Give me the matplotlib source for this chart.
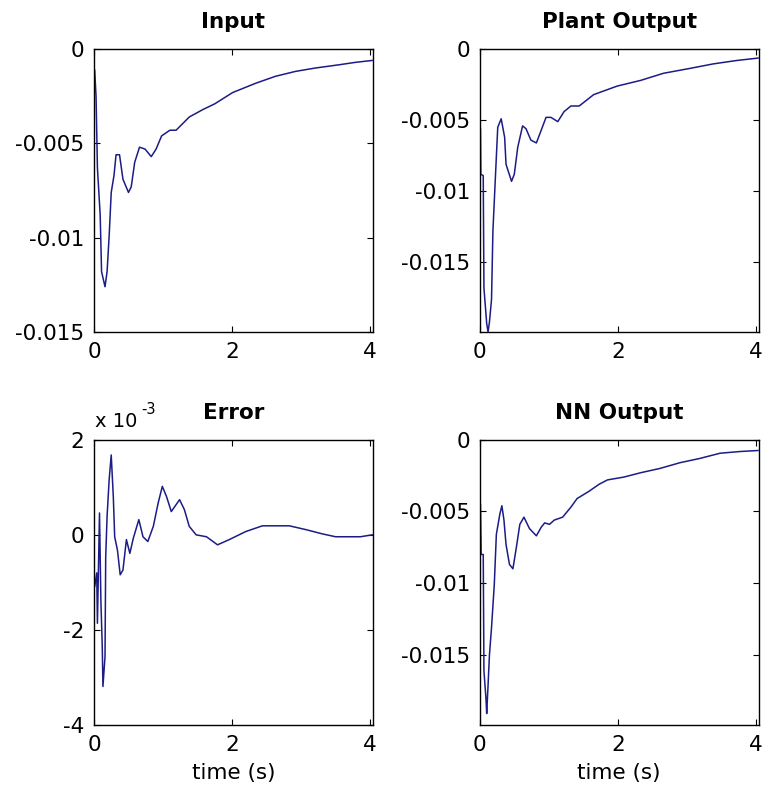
import matplotlib.pyplot as plt

# values (time in s)
t_input = [0.0, 0.01, 0.03, 0.05, 0.09, 0.11, 0.16, 0.19, 0.22, 0.25, 0.29, 0.32, 0.37,
           0.42, 0.5, 0.54, 0.59, 0.66, 0.74, 0.83, 0.9, 0.98, 1.1, 1.19, 1.38, 1.58,
           1.75, 2.01, 2.35, 2.63, 2.92, 3.21, 3.55, 3.79, 4.03]
y_input = [-0.0011, -0.0011, -0.0025, -0.0063, -0.0088, -0.0118, -0.0126, -0.0118,
           -0.0099, -0.0076, -0.0067, -0.0056, -0.0056, -0.0069, -0.0076, -0.0073,
           -0.0060, -0.0052, -0.0053, -0.0057, -0.0053, -0.0046, -0.0043, -0.0043,
           -0.0036, -0.0032, -0.0029, -0.0023, -0.0018, -0.00144, -0.00118, -0.0010,
           -0.00083, -0.0007, -0.0006]

t_plant = [0.0, 0.01, 0.015, 0.05, 0.06, 0.1, 0.12, 0.14, 0.17, 0.19, 0.23, 0.26, 0.31,
           0.36, 0.38, 0.46, 0.5, 0.55, 0.62, 0.67, 0.74, 0.82, 0.89, 0.96, 1.03, 1.13,
           1.22, 1.32, 1.44, 1.65, 1.99, 2.33, 2.66, 3.05, 3.38, 3.72, 4.03]
y_plant = [-0.0056, -0.0056, -0.0088, -0.0089, -0.0168, -0.0193, -0.0199, -0.0192,
           -0.0176, -0.0128, -0.0086, -0.0055, -0.0049, -0.0062, -0.0081, -0.0093,
           -0.0088, -0.0069, -0.0054, -0.0056, -0.0064, -0.0066, -0.0057, -0.0048,
           -0.0048, -0.0051, -0.0044, -0.0040, -0.0040, -0.0032, -0.0026, -0.0022,
           -0.0017, -0.00135, -0.00104, -0.0008, -0.00063]

# error shown in units of 1e-3
t_err = [0.0, 0.01, 0.04, 0.05, 0.08, 0.1, 0.12, 0.13, 0.16, 0.17, 0.19, 0.22, 0.25,
         0.28, 0.3, 0.34, 0.38, 0.42, 0.47, 0.52, 0.57, 0.65, 0.71, 0.78, 0.86, 0.93,
         0.99, 1.05, 1.12, 1.24, 1.31, 1.38, 1.48, 1.63, 1.79, 1.96, 2.2, 2.44, 2.83,
         3.07, 3.31, 3.5, 3.86, 4.03]
y_err = [-1.09, -1.09, -0.8, -1.86, 0.46, -1.37, -2.35, -3.19, -2.56, -0.46, 0.39,
         1.16, 1.68, 0.81, -0.04, -0.32, -0.84, -0.74, -0.1, -0.39, -0.07, 0.32,
         -0.04, -0.14, 0.18, 0.67, 1.02, 0.81, 0.49, 0.74, 0.53, 0.18, 0.0, -0.04,
         -0.21, -0.1, 0.07, 0.19, 0.19, 0.11, 0.02, -0.04, -0.04, 0.0]

t_nn = [0.0, 0.01, 0.02, 0.05, 0.06, 0.09, 0.1, 0.12, 0.14, 0.17, 0.21, 0.24, 0.29,
        0.32, 0.35, 0.38, 0.43, 0.48, 0.53, 0.58, 0.64, 0.72, 0.82, 0.89, 0.94, 1.01,
        1.08, 1.2, 1.32, 1.41, 1.58, 1.73, 1.85, 2.09, 2.33, 2.61, 2.9, 3.19, 3.48,
        3.77, 4.03]
y_nn = [-0.0045, -0.0045, -0.008, -0.008, -0.0161, -0.0181, -0.0191, -0.0171, -0.015,
        -0.0131, -0.0101, -0.0066, -0.0052, -0.0046, -0.0056, -0.0073, -0.0087, -0.009,
        -0.0075, -0.0059, -0.0054, -0.0062, -0.0067, -0.0061, -0.0058, -0.0059, -0.0056,
        -0.0054, -0.0047, -0.0041, -0.0036, -0.0031, -0.0028, -0.0026, -0.0023, -0.002,
        -0.0016, -0.0013, -0.00094, -0.00082, -0.00075]

plt.rcParams['font.family'] = ['DejaVu Sans']
LINE = '#1c1c86'
FS = 15.5

fig = plt.figure(figsize=(7.64, 7.99), dpi=100)
ax1 = fig.add_axes([0.123, 0.5845, 0.365, 0.354])
ax2 = fig.add_axes([0.628, 0.5845, 0.365, 0.354])
ax3 = fig.add_axes([0.123, 0.0926, 0.365, 0.357])
ax4 = fig.add_axes([0.628, 0.0926, 0.365, 0.357])

ax1.plot(t_input, y_input, color=LINE, lw=1.1)
ax1.set_ylim(-0.015, 0)
ax1.set_yticks([0, -0.005, -0.01, -0.015])
ax1.set_yticklabels(['0', '-0.005', '-0.01', '-0.015'])
ax1.set_title('Input', fontsize=FS, fontweight='bold', pad=15)

ax2.plot(t_plant, y_plant, color=LINE, lw=1.1)
ax2.set_ylim(-0.0199, 0)
ax2.set_yticks([0, -0.005, -0.01, -0.015])
ax2.set_yticklabels(['0', '-0.005', '-0.01', '-0.015'])
ax2.set_title('Plant Output', fontsize=FS, fontweight='bold', pad=15)

ax3.plot(t_err, y_err, color=LINE, lw=1.1)
ax3.set_ylim(-4, 2)
ax3.set_yticks([2, 0, -2, -4])
ax3.set_yticklabels(['2', '0', '-2', '-4'])
ax3.set_title('Error', fontsize=FS, fontweight='bold', pad=15)
ax3.text(0.004, 1.046, 'x 10', transform=ax3.transAxes, fontsize=14,
         ha='left', va='baseline')
ax3.text(0.168, 1.09, '-3', transform=ax3.transAxes, fontsize=10.5,
         ha='left', va='baseline')
ax3.set_xlabel('time (s)', fontsize=FS, labelpad=6)

ax4.plot(t_nn, y_nn, color=LINE, lw=1.1)
ax4.set_ylim(-0.0199, 0)
ax4.set_yticks([0, -0.005, -0.01, -0.015])
ax4.set_yticklabels(['0', '-0.005', '-0.01', '-0.015'])
ax4.set_title('NN Output', fontsize=FS, fontweight='bold', pad=15)
ax4.set_xlabel('time (s)', fontsize=FS, labelpad=6)

for ax in (ax1, ax2, ax3, ax4):
    ax.set_xlim(0, 4.04)
    ax.set_xticks([0, 2, 4])
    ax.set_xticklabels(['0', '2', '4'])
    ax.tick_params(direction='in', length=4, width=0.8, top=True, right=True,
                   labelsize=FS, pad=7)
    for s in ax.spines.values():
        s.set_linewidth(1.0)

fig.savefig('out.png', dpi=100)
